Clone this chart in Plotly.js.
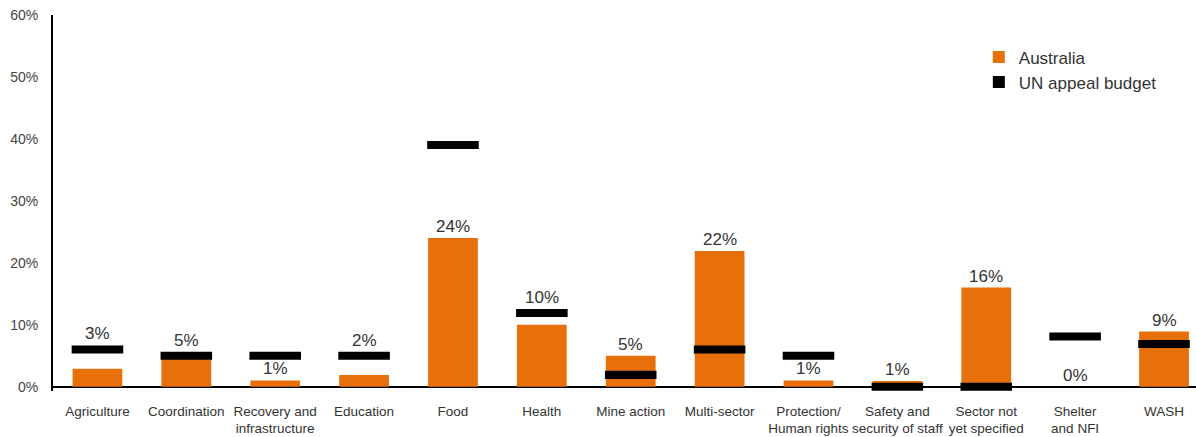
<!DOCTYPE html>
<html><head><meta charset="utf-8">
<script src="https://cdn.plot.ly/plotly-3.0.1.min.js"></script>
<style>html,body{margin:0;padding:0;background:#fff}#chart{width:1196px;height:437px}</style>
</head><body><div id="chart"></div>
<script>
const categories = ["Agriculture","Coordination","Recovery and<br>infrastructure","Education","Food","Health","Mine action","Multi-sector","Protection/<br>Human rights","Safety and<br>security of staff","Sector not<br>yet specified","Shelter<br>and NFI","WASH"];
const australia = [2.9, 4.8, 1.0, 1.9, 24.0, 10.0, 5.0, 21.9, 1.0, 0.9, 16.0, 0.0, 8.9];
const unAppeal = [6.0, 5.0, 5.0, 5.0, 39.0, 11.9, 1.9, 6.0, 5.0, 0.0, 0.0, 8.1, 6.9];
const yTicks = [0, 10, 20, 30, 40, 50, 60];

const markerThick = 1.3;
const idx = categories.map((c, i) => i);
const font = "'Liberation Sans', Arial, sans-serif";

const traces = [
  {type:'bar', name:'Australia', x: idx, y: australia, width: 0.56,
   marker:{color:'#E8700B'}, hoverinfo:'skip'},
  {type:'bar', name:'UN appeal budget', x: idx, y: unAppeal.map(() => markerThick),
   base: unAppeal.map(v => v - markerThick/2), width: 0.58,
   marker:{color:'#000'}, hoverinfo:'skip'}
];

const annotations = australia.map((v, i) => {
  const u = unAppeal[i];
  const top = (u > v && u - v <= 3.5) ? u + markerThick/2 : v;
  return {x: i, y: top, xref:'x', yref:'y', text: Math.round(v) + '%', showarrow:false,
    yanchor:'bottom', yshift: 0, font:{family:font, size:17, color:'#333'}};
});

const layout = {
  width:1196, height:437, barmode:'overlay',
  margin:{l:53, r:0, t:15, b:46},
  paper_bgcolor:'#fff', plot_bgcolor:'#fff',
  showlegend:true,
  legend:{x:0.81, y:0.935, xanchor:'left', yanchor:'top', bgcolor:'rgba(0,0,0,0)',
    tracegroupgap:0, itemwidth:30,
    font:{family:font, size:17, color:'#333'}},
  xaxis:{range:[-0.5, 12.36], tickmode:'array', tickvals: idx, ticktext: categories,
    tickangle:0, automargin:false, ticklabelstandoff: 10,
    showgrid:false, zeroline:false, showline:false, ticks:'', fixedrange:true,
    tickfont:{family:font, size:13.5, color:'#333'}},
  yaxis:{range:[-0.7, 60], tickmode:'array', tickvals: yTicks, ticktext: yTicks.map(t => t + '%'),
    showgrid:false, zeroline:true, zerolinecolor:'#000', zerolinewidth:2, automargin:false,
    showline:true, linecolor:'#000', linewidth:2, ticks:'', ticklabelstandoff: 10,
    tickfont:{family:font, size:14, color:'#444'}},
  annotations: annotations
};
Plotly.newPlot('chart', traces, layout, {displayModeBar:false, staticPlot:true});
</script></body></html>
